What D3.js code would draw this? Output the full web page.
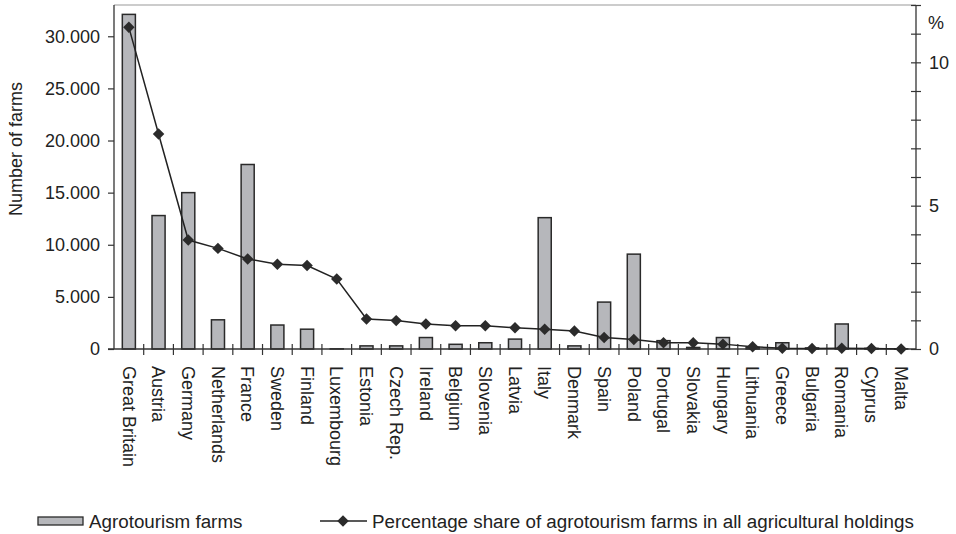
<!DOCTYPE html>
<html>
<head>
<meta charset="utf-8">
<script src="https://cdn.jsdelivr.net/npm/d3@7/dist/d3.min.js"></script>
<style>
  body { margin: 0; background: #fff; }
  svg { font-family: "Liberation Sans", Arial, sans-serif; }
</style>
</head>
<body>
<script>
// Data
var countries = ["Great Britain", "Austria", "Germany", "Netherlands", "France", "Sweden", "Finland",
    "Luxembourg", "Estonia", "Czech Rep.", "Ireland", "Belgium", "Slovenia", "Latvia", "Italy",
    "Denmark", "Spain", "Poland", "Portugal", "Slovakia", "Hungary", "Lithuania", "Greece",
    "Bulgaria", "Romania", "Cyprus", "Malta"];

var farms = [32100, 12800, 15000, 2800, 17700, 2300, 1900, 20, 300, 300, 1100, 450, 600, 950,
    12600, 300, 4500, 9100, 800, 150, 1100, 150, 600, 100, 2400, 60, 20];

var share = [11.22, 7.5, 3.8, 3.51, 3.14, 2.96, 2.91, 2.44, 1.05, 0.99, 0.87, 0.81, 0.81, 0.74,
    0.69, 0.63, 0.4, 0.33, 0.22, 0.22, 0.17, 0.08, 0.03, 0.02, 0.03, 0.02, 0];

var leftTicks = [0, 5000, 10000, 15000, 20000, 25000, 30000];
var rightTicks = [0, 1, 2, 3, 4, 5, 6, 7, 8, 9, 10, 11, 12];
var rightLabels = [0, 5, 10];

var width = 956, height = 534;
// plot edges ("top" is taken by window, so short names)
var pL = 114, pR = 916, pT = 5, pB = 349;
var fs = 18;

var svg = d3.select("body").append("svg")
    .attr("width", width)
    .attr("height", height);

var x = d3.scaleBand()
    .domain(countries)
    .range([pL, pR])
    .paddingInner(0.56)
    .paddingOuter(0.28);

var yL = d3.scaleLinear().domain([0, 33000]).range([pB, pT]);
var yR = d3.scaleLinear().domain([0, 12]).range([pB, pT]);

var fmt = d3.formatLocale({ decimal: ",", thousands: ".", grouping: [3], currency: ["", ""] }).format(",d");

// top border
svg.append("line")
    .attr("x1", pL).attr("x2", pR)
    .attr("y1", pT).attr("y2", pT)
    .attr("stroke", "#9a9a9a").attr("stroke-width", 1.2);

// left axis
var gl = svg.append("g")
    .attr("transform", "translate(" + pL + ",0)")
    .call(d3.axisLeft(yL).tickValues(leftTicks).tickFormat(fmt).tickSize(6).tickPadding(8));
gl.select(".domain").attr("stroke", "#333").attr("stroke-width", 1.3).attr("d", "M0," + pB + "V" + pT);
gl.selectAll(".tick line").attr("stroke", "#333").attr("stroke-width", 1.2);
gl.selectAll(".tick text").attr("font-size", fs).attr("fill", "#222");

// right axis, ticks cross the line
var gr = svg.append("g")
    .attr("transform", "translate(" + pR + ",0)")
    .call(d3.axisRight(yR).tickValues(rightTicks)
        .tickFormat(function(d) { return rightLabels.indexOf(d) >= 0 ? d : ""; })
        .tickSize(0).tickPadding(13));
gr.select(".domain").attr("stroke", "#333").attr("stroke-width", 1.3).attr("d", "M0," + pB + "V" + pT);
gr.selectAll(".tick").append("line")
    .attr("x1", -5).attr("x2", 5)
    .attr("stroke", "#333").attr("stroke-width", 1.2);
gr.selectAll(".tick text").attr("font-size", fs).attr("fill", "#222");

svg.append("text")
    .attr("x", pR + 12).attr("y", 23).attr("dy", "0.35em")
    .attr("font-size", fs).attr("fill", "#222")
    .text("%");

// y title
svg.append("text")
    .attr("transform", "translate(16,149) rotate(-90)")
    .attr("text-anchor", "middle")
    .attr("dy", "0.35em")
    .attr("font-size", fs).attr("fill", "#222")
    .text("Number of farms");

// bars
svg.selectAll(".bar")
    .data(countries)
    .enter().append("rect")
    .attr("class", "bar")
    .attr("x", function(d) { return x(d); })
    .attr("width", x.bandwidth())
    .attr("y", function(d, i) { return yL(farms[i]); })
    .attr("height", function(d, i) { return pB - yL(farms[i]); })
    .attr("fill", "#b6b7bb")
    .attr("stroke", "#2a2a2a")
    .attr("stroke-width", 1.5);

// category axis
svg.append("line")
    .attr("x1", pL - 6).attr("x2", pR)
    .attr("y1", pB).attr("y2", pB)
    .attr("stroke", "#333").attr("stroke-width", 1.3);

var edges = d3.range(1, countries.length).map(function(i) { return pL + i * x.step(); });
svg.selectAll(".ctick")
    .data(edges)
    .enter().append("line")
    .attr("class", "ctick")
    .attr("x1", function(d) { return d; }).attr("x2", function(d) { return d; })
    .attr("y1", pB - 5).attr("y2", pB + 6)
    .attr("stroke", "#333").attr("stroke-width", 1.2);

svg.selectAll(".clabel")
    .data(countries)
    .enter().append("text")
    .attr("class", "clabel")
    .attr("transform", function(d) {
        return "translate(" + (x(d) + x.bandwidth() / 2) + "," + (pB + 17) + ") rotate(90)";
    })
    .attr("dy", "0.35em")
    .attr("font-size", fs).attr("fill", "#222")
    .text(function(d) { return d; });

// share line
var cx = function(i) { return x(countries[i]) + x.bandwidth() / 2; };
var line = d3.line()
    .x(function(d, i) { return cx(i); })
    .y(function(d) { return yR(d); });

svg.append("path")
    .datum(share)
    .attr("d", line)
    .attr("fill", "none")
    .attr("stroke", "#222")
    .attr("stroke-width", 1.5);

var diamond = d3.symbol().type(d3.symbolSquare).size(66);
svg.selectAll(".pt")
    .data(share)
    .enter().append("path")
    .attr("class", "pt")
    .attr("transform", function(d, i) {
        return "translate(" + cx(i) + "," + yR(d) + ") rotate(45)";
    })
    .attr("d", diamond)
    .attr("fill", "#2b2b2b");

// legend
var ly = 521, lfs = 18.8;
svg.append("rect")
    .attr("x", 38).attr("y", ly - 4)
    .attr("width", 45).attr("height", 8)
    .attr("fill", "#b6b7bb").attr("stroke", "#2a2a2a").attr("stroke-width", 1.3);
svg.append("text")
    .attr("x", 89).attr("y", ly).attr("dy", "0.35em")
    .attr("font-size", lfs).attr("fill", "#222")
    .text("Agrotourism farms");

svg.append("line")
    .attr("x1", 320).attr("x2", 367)
    .attr("y1", ly).attr("y2", ly)
    .attr("stroke", "#222").attr("stroke-width", 1.5);
svg.append("path")
    .attr("transform", "translate(343," + ly + ") rotate(45)")
    .attr("d", diamond)
    .attr("fill", "#2b2b2b");
svg.append("text")
    .attr("x", 372).attr("y", ly).attr("dy", "0.35em")
    .attr("font-size", lfs).attr("fill", "#222")
    .text("Percentage share of agrotourism farms in all agricultural holdings");
</script>
</body>
</html>
